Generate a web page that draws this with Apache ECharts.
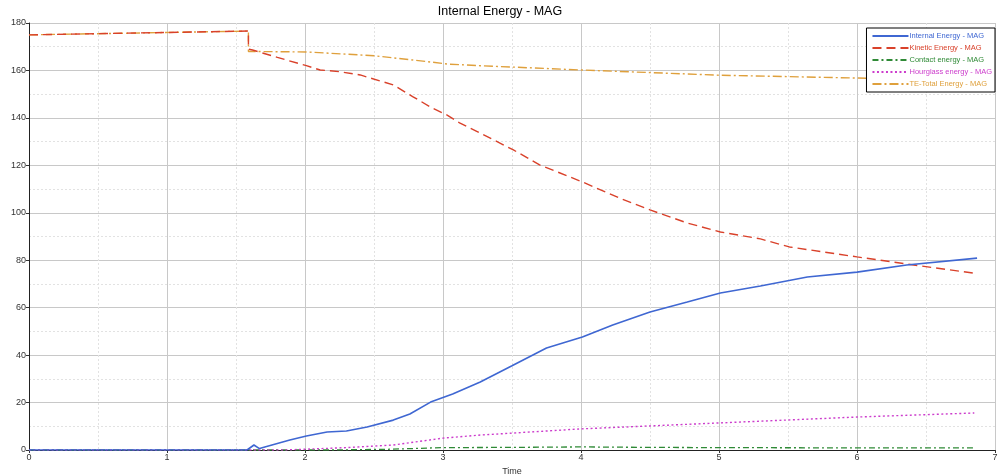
<!DOCTYPE html>
<html><head><meta charset="utf-8">
<script src="https://cdn.jsdelivr.net/npm/echarts@6/dist/echarts.min.js"></script>
<style>html,body{margin:0;padding:0;background:#fff}#c{width:1000px;height:474px}</style>
</head><body><div id="c"></div>
<script>
const seriesNames = ['Internal Energy - MAG','Kinetic Energy - MAG','Contact energy - MAG','Hourglass energy - MAG','TE-Total Energy - MAG'];
const xTicks = [0,1,2,3,4,5,6,7];
const yTicks = [0,20,40,60,80,100,120,140,160,180];

const internalT = [0,1.58,1.63,1.67,1.89,2.01,2.16,2.30,2.45,2.64,2.76,2.91,3.07,3.27,3.5,3.75,4.01,4.23,4.5,4.77,5.01,5.3,5.64,6.0,6.36,6.87];
const internalV = [0,0,2.1,0.6,4.2,5.9,7.6,8,9.7,12.6,15.2,20.2,23.6,28.7,35.5,43,47.6,52.7,58.2,62.4,66.2,69.1,72.9,75,78,80.9];

const kineticT = [0,1.59,1.59,1.62,1.8,2.01,2.11,2.25,2.40,2.64,2.78,2.92,3.03,3.12,3.27,3.51,3.70,4.01,4.28,4.5,4.77,5.01,5.3,5.51,6.0,6.41,6.84];
const kineticV = [175,176.6,169,168.6,165.5,162,160.2,159.5,158.1,153.9,149,144.2,141.2,137.9,133.6,126.5,120.2,113,106.2,101.2,95.7,91.9,89,85.6,81.4,78,74.6];

const contactT = [0,2.2,2.6,3.0,3.5,4.0,4.5,5.0,6.0,6.85];
const contactV = [0,0,0.3,1.0,1.1,1.3,1.1,1.0,0.9,0.9];

const hourglassT = [0,1.85,2.3,2.64,3.0,3.27,4.0,5.0,6.0,6.85];
const hourglassV = [0,0,1.0,2.1,5.0,6.3,8.9,11.4,13.9,15.6];

const totalT = [0,1.59,1.59,2.01,2.5,2.89,3.03,3.27,4.0,5.0,6.0,6.85];
const totalV = [175,176.6,168,167.8,166.2,163.7,162.7,162,160.2,158,156.8,155.8];

const colors = ['#3f67d2','#d9412a','#2f8a36','#cc3ccc','#dfa03c'];
const dashes = ['solid',[9,5],[6,3,2,3],[2,2.5],[9,3,2,3]];
const widths = [1.6,1.4,1.3,1.4,1.4];

function pairs(t,v){return t.map((x,i)=>[x,v[i]]);}
const dataSets = [pairs(internalT,internalV),pairs(kineticT,kineticV),pairs(contactT,contactV),pairs(hourglassT,hourglassV),pairs(totalT,totalV)];

const chart = echarts.init(document.getElementById('c'));
const font = 'Liberation Sans, Arial, sans-serif';
chart.setOption({
  animation:false,
  title:{text:'Internal Energy - MAG',left:'center',top:0,textStyle:{fontFamily:font,fontSize:12.5,fontWeight:'normal',color:'#000'}},
  grid:{left:29,right:5,top:23,bottom:24,containLabel:false,outerBoundsMode:'none'},
  legend:{
    orient:'vertical',right:5,top:28,
    padding:[4,3,4,5],borderColor:'#000',borderWidth:1,backgroundColor:'#fff',
    itemWidth:36,itemHeight:8,itemGap:4,
    itemStyle:{opacity:0},
    data:seriesNames.map((n,i)=>({name:n,textStyle:{color:colors[i]}})),
    textStyle:{fontFamily:font,fontSize:7.5,padding:[0,0,0,-4]}
  },
  xAxis:{
    type:'value',min:0,max:7,interval:1,
    name:'Time',nameLocation:'middle',nameGap:12,
    nameTextStyle:{fontFamily:font,fontSize:9,color:'#333'},
    axisLine:{show:true,lineStyle:{color:'#222',width:1}},
    axisTick:{show:true,length:3,lineStyle:{color:'#333'}},
    axisLabel:{fontFamily:font,fontSize:9,color:'#333',margin:3,formatter:v=>xTicks.includes(v)?String(v):''},
    splitLine:{show:true,lineStyle:{color:'#c8c8c8',width:1}},
    minorTick:{show:false,splitNumber:2},
    minorSplitLine:{show:true,lineStyle:{color:'#e2e2e2',type:[2,2],width:1}}
  },
  yAxis:{
    type:'value',min:0,max:180,interval:20,
    name:'Global Variables',nameLocation:'middle',nameGap:19,
    nameTextStyle:{fontFamily:font,fontSize:9,color:'#333'},
    axisLine:{show:true,lineStyle:{color:'#222',width:1}},
    axisTick:{show:true,length:3,lineStyle:{color:'#333'}},
    axisLabel:{fontFamily:font,fontSize:9,color:'#333',margin:3,formatter:v=>yTicks.includes(v)?String(v):''},
    splitLine:{show:true,lineStyle:{color:'#c8c8c8',width:1}},
    minorTick:{show:false,splitNumber:2},
    minorSplitLine:{show:true,lineStyle:{color:'#e2e2e2',type:[2,2],width:1}}
  },
  series:seriesNames.map((n,i)=>({
    name:n,type:'line',data:dataSets[i],showSymbol:false,symbol:'none',
    smooth:false,z:[5,4,2,3,1][i],
    lineStyle:{color:colors[i],type:dashes[i],width:widths[i]},
    itemStyle:{color:colors[i]}
  }))
});
</script></body></html>
